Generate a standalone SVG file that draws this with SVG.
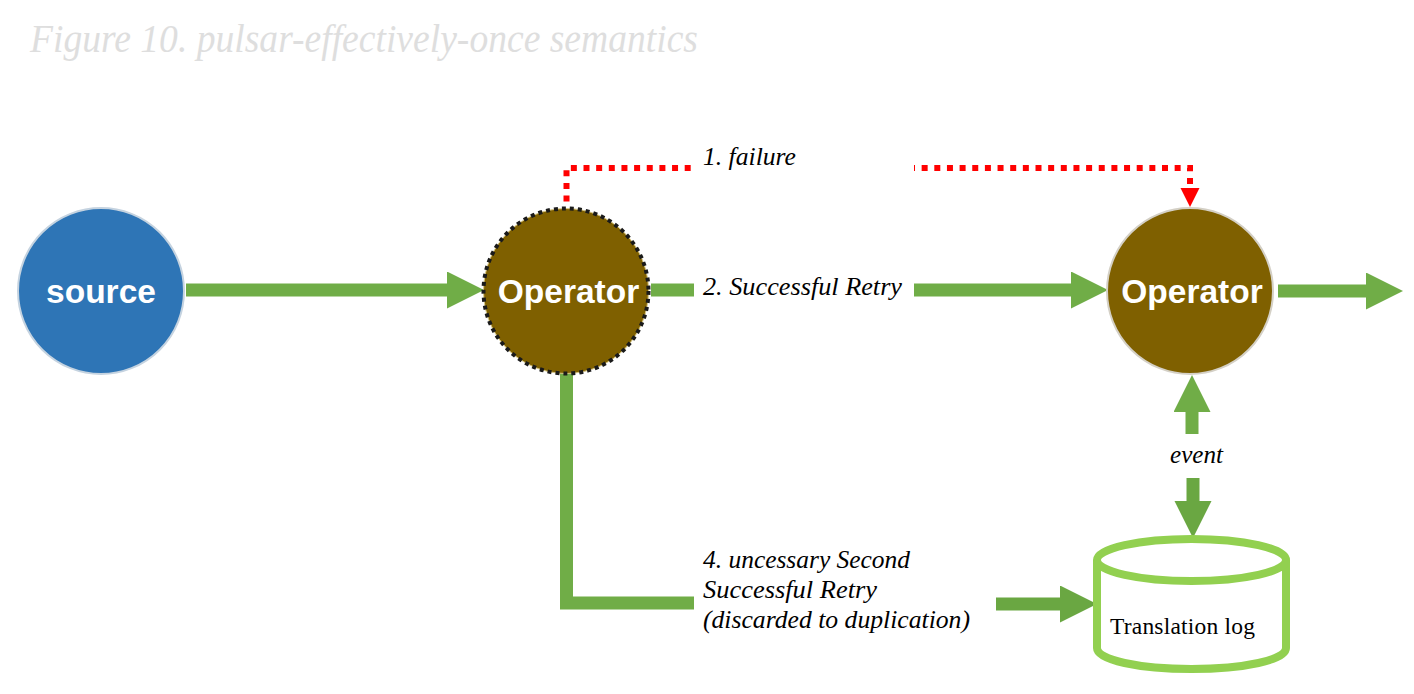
<svg xmlns="http://www.w3.org/2000/svg" width="1414" height="694" viewBox="0 0 1414 694">
<style>
.flow{fill:none;stroke:#70ad47;stroke-width:13}
.fail{fill:none;stroke:#ff0000;stroke-width:6;stroke-dasharray:6 6.65}
.node{fill:#7f6000;stroke:#d4d0c6;stroke-width:2}
.lbl{font-family:"Liberation Serif",serif;font-style:italic;font-size:26px;fill:#000}
.nt{font-family:"Liberation Sans",Arial,sans-serif;font-weight:bold;font-size:33.500px;fill:#fff;text-anchor:middle}
</style>
<defs>
<marker id="ah" markerUnits="userSpaceOnUse" markerWidth="38" markerHeight="38" refX="0" refY="18.5" orient="auto"><path d="M0 0L37 18.5L0 37Z" fill="#70ad47"/></marker>
<marker id="ahd" markerUnits="userSpaceOnUse" markerWidth="38" markerHeight="38" refX="0" refY="18.5" orient="auto"><path d="M0 0L37 18.5L0 37Z" fill="#6aa742"/></marker>
<marker id="ar" markerUnits="userSpaceOnUse" markerWidth="20" markerHeight="20" refX="0" refY="9.5" orient="auto"><path d="M0 0L19 9.5L0 19Z" fill="#ff0000"/></marker>
</defs>
<rect width="1414" height="694" fill="#fff"/>
<text id="title" x="30" y="52" font-family="Liberation Serif,serif" font-style="italic" font-size="40" fill="#dedede" textLength="668" lengthAdjust="spacingAndGlyphs">Figure 10. pulsar-effectively-once semantics</text>
<g id="connectors">
<path class="flow" d="M186 290H447" marker-end="url(#ah)"/>
<path class="flow" d="M651 290H694"/>
<path class="flow" d="M914 290H1071" marker-end="url(#ah)"/>
<path class="flow" d="M1278 291H1366" marker-end="url(#ah)"/>
<path class="flow" d="M566.500 373V603H694"/>
<path class="flow" style="stroke:#6aa742" d="M996 604H1060" marker-end="url(#ahd)"/>
<path class="flow" d="M1192 434V412" marker-end="url(#ah)"/>
<path class="flow" style="stroke:#6aa742" d="M1193 478V501" marker-end="url(#ahd)"/>
<path class="fail" d="M566.500 201.600V168H690.800"/>
<path class="fail" style="stroke-dashoffset:5" d="M914 168H1190V188" marker-end="url(#ar)"/>
</g>
<g id="source"><circle cx="101" cy="291" r="83" fill="#2e75b6" stroke="#c5d3e0" stroke-width="2"/><text class="nt" x="101" y="303">source</text></g>
<g id="operator1"><circle cx="566" cy="291" r="82.500" fill="#7f6000" stroke="#d9c98a" stroke-width="1"/><circle cx="566" cy="291" r="82.500" fill="none" stroke="#1a1a1a" stroke-width="4" stroke-dasharray="4 4"/><text class="nt" x="568.500" y="303">Operator</text></g>
<g id="operator2"><circle class="node" cx="1190" cy="291" r="83"/><text class="nt" x="1192" y="303">Operator</text></g>
<g id="log"><path d="M1097 560V648C1097 660 1139 669 1191.500 669S1286 660 1286 648V560" fill="#fff" stroke="#92d050" stroke-width="8"/><ellipse cx="1191.500" cy="560" rx="94.500" ry="21" fill="#fff" stroke="#92d050" stroke-width="8"/><text x="1110" y="634" font-family="Liberation Serif,serif" font-size="23.500" fill="#000" textLength="145" lengthAdjust="spacing">Translation log</text></g>
<g id="labels">
<text class="lbl" x="703" y="165" textLength="93" lengthAdjust="spacingAndGlyphs">1. failure</text>
<text class="lbl" x="703" y="295" textLength="199" lengthAdjust="spacingAndGlyphs">2. Successful Retry</text>
<text class="lbl" x="1170" y="463" textLength="53" lengthAdjust="spacingAndGlyphs">event</text>
<text class="lbl" x="703" y="568" textLength="207" lengthAdjust="spacingAndGlyphs">4. uncessary Second</text>
<text class="lbl" x="703" y="598" textLength="174" lengthAdjust="spacingAndGlyphs">Successful Retry</text>
<text class="lbl" x="703" y="628" textLength="267" lengthAdjust="spacingAndGlyphs">(discarded to duplication)</text>
</g>
</svg>
